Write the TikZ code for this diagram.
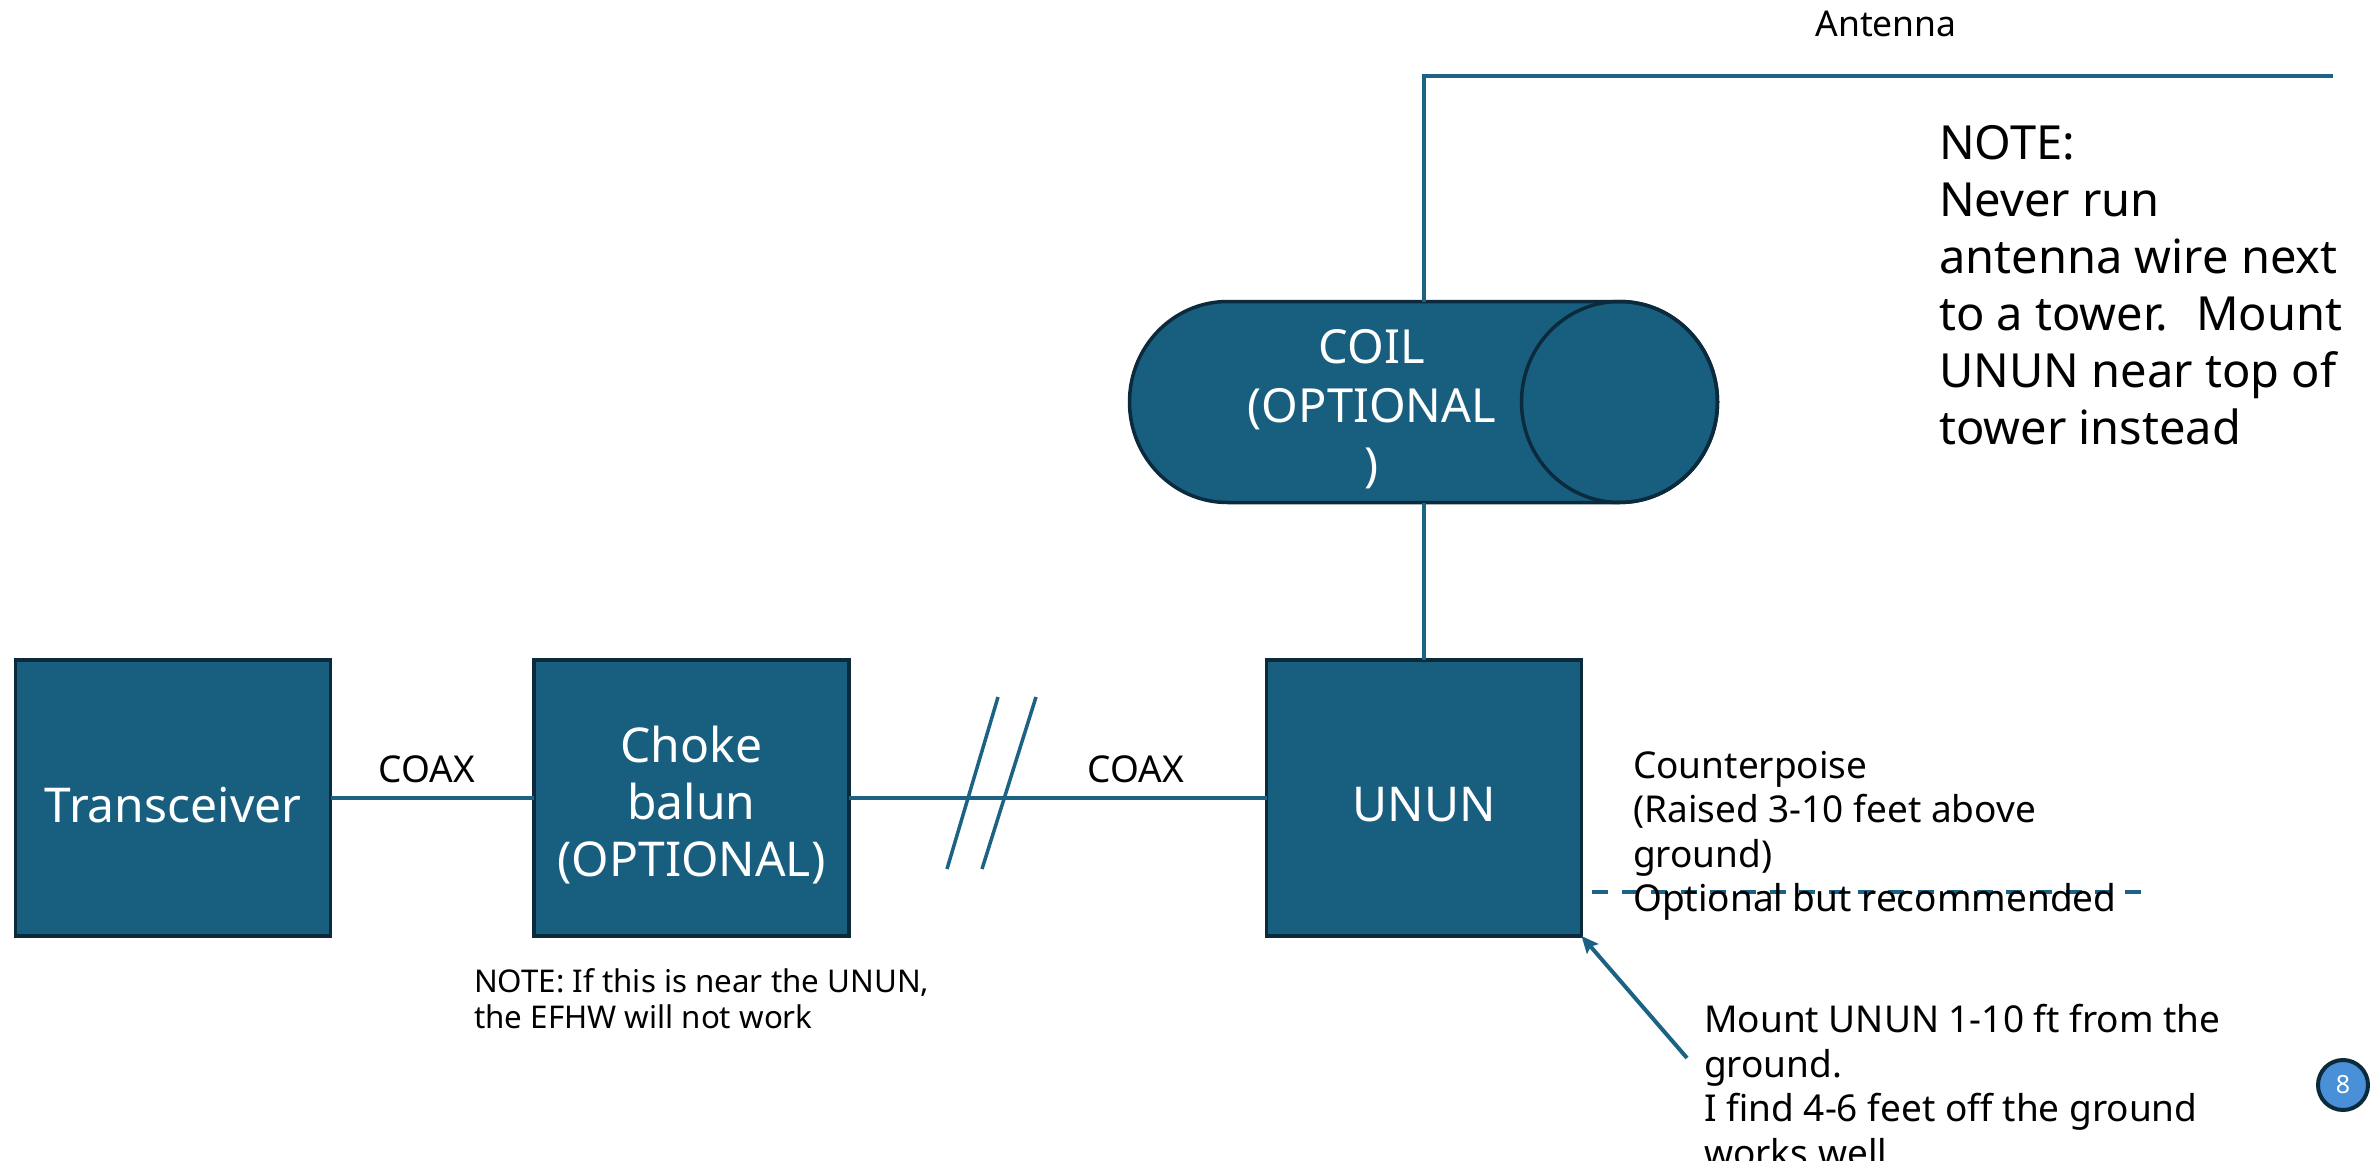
\documentclass[tikz,border=0pt]{standalone}
\usepackage{fontspec}
\setmainfont{Noto Sans}
\usetikzlibrary{arrows.meta}
\definecolor{boxfill}{HTML}{175E7F}
\definecolor{boxedge}{HTML}{0B2B3D}
\definecolor{wirecol}{HTML}{1B6284}
\definecolor{pagefill}{HTML}{4A90D9}
\begin{document}
\begin{tikzpicture}[x=1pt,y=-1pt,
  blockbox/.style={rectangle, draw=boxedge, fill=boxfill, line width=3.5pt, minimum width=315pt, minimum height=276pt, inner sep=0pt, outer sep=0pt, text=white, align=center, font=\fontsize{48}{57}\selectfont},
  wire/.style={draw=wirecol, line width=3.5pt},
  lbl/.style={inner sep=0pt, align=left, anchor=north west, font=\fontsize{37}{44.5}\selectfont},
  coaxlbl/.style={inner sep=0pt, font=\fontsize{37}{44.5}\selectfont},
]
\fill[white] (0,0) rectangle (2375,1161);
\useasboundingbox (0,0) rectangle (2375,1161);

% blocks
\node[blockbox] (trx) at (173,798) {\rule{0pt}{49pt}Transceiver};
\node[blockbox] (choke) at (691.5,798) {\rule{0pt}{51pt}Choke\\balun\\(OPTIONAL)};
\node[blockbox] (unun) at (1424,798) {\rule{0pt}{46.5pt}UNUN};

% coil (cylinder)
\node[rectangle, minimum width=588pt, minimum height=201pt, inner sep=0pt, outer sep=0pt] (coil) at (1423.5,402) {};
\path[fill=boxfill, draw=boxedge, line width=3.5pt]
  ([xshift=98pt]coil.north west) -- ([xshift=-98pt]coil.north east)
  arc[start angle=90, end angle=-90, x radius=98pt, y radius=100.5pt]
  -- ([xshift=98pt]coil.south west)
  arc[start angle=270, end angle=90, x radius=98pt, y radius=100.5pt] -- cycle;
\draw[draw=boxedge, line width=3.5pt] ([xshift=-98pt]coil.east) ellipse[x radius=98pt, y radius=100.5pt];
\node[inner sep=0pt, text=white, align=center, font=\fontsize{47}{59}\selectfont] (coiltxt) at (1372,409) {COIL\\(OPTIONAL\\)};

% connectors
\draw[wire] (trx.east) -- (choke.west);
\draw[wire] (choke.east) -- (unun.west);
\draw[wire] (unun.north) -- (unun.north |- coil.south);
\coordinate (antTop) at (1424,76);
\coordinate (antEnd) at (2333,76);
\draw[wire] (unun.north |- coil.north) -- (antTop) -- (antEnd);

% break marks
\draw[wirecol, line width=3.5pt] (998,697) -- (947,869);
\draw[wirecol, line width=3.5pt] (1036,697) -- (982,869);

% counterpoise dashed line
\coordinate (cpA) at (1592,892);
\coordinate (cpB) at (2141,892);
\draw[wirecol, line width=4pt, dash pattern=on 16pt off 13.6pt] (cpA) -- (cpB);

% arrow
\coordinate (mountTail) at (1687,1058);
\draw[wirecol, line width=4pt, -{Stealth[length=17pt,width=15pt,inset=3pt]}] (mountTail) -- (unun.south east);

% labels
\node[inner sep=0pt, font=\fontsize{35.5}{40}\selectfont] (antlbl) at (1886,24) {Antenna};
\node[coaxlbl] (coax1) at (427,769) {COAX};
\node[coaxlbl] (coax2) at (1136,769) {COAX};
\node[lbl] (cplbl) at (1633,751) {Counterpoise\\(Raised 3-10 feet above\\ground)\\Optional but recommended};
\node[lbl] (mountlbl) at (1704,1004) {Mount UNUN 1-10 ft from the\\ground.\\I find 4-6 feet off the ground\\works well};
\node[inner sep=0pt, align=left, anchor=north west, font=\fontsize{31.3}{36}\selectfont] (chokenote) at (474,968) {NOTE: If this is near the UNUN,\\the EFHW will not work};
\node[inner sep=0pt, align=left, anchor=north west, font=\fontsize{47}{57}\selectfont] (towernote) at (1939,125) {NOTE:\\Never run\\antenna wire next\\to a tower.~ Mount\\UNUN near top of\\tower instead};

% page number
\node[circle, fill=pagefill, draw=boxedge, line width=4pt, minimum size=50pt, inner sep=0pt, text=white, font=\fontsize{25}{28}\selectfont] (pagenum) at (2343,1085) {8};
\end{tikzpicture}
\end{document}
